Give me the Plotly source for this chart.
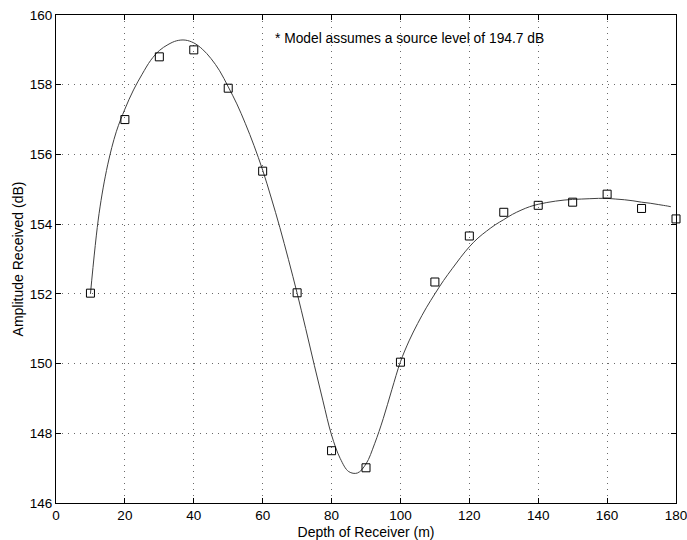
import plotly.graph_objects as go

# Measured received amplitude at each receiver depth
depth_m = [10, 20, 30, 40, 50, 60, 70, 80, 90, 100, 110, 120, 130, 140, 150, 160, 170, 180]
amplitude_db = [152.02, 157.0, 158.8, 159.0, 157.9, 155.52, 152.03, 147.5, 147.01, 150.04,
                152.34, 153.66, 154.34, 154.54, 154.63, 154.86, 154.45, 154.15]

# Propagation model curve, sampled every 2.5 m
model_depth = [10, 12.5, 15, 17.5, 20, 22.5, 25, 27.5, 30, 32.5, 35, 37.5, 40, 42.5, 45, 47.5,
               50, 52.5, 55, 57.5, 60, 62.5, 65, 67.5, 70, 72.5, 75, 77.5, 80, 82.5, 85, 87.5,
               90, 92.5, 95, 97.5, 100, 102.5, 105, 107.5, 110, 112.5, 115, 117.5, 120, 122.5,
               125, 127.5, 130, 132.5, 135, 137.5, 140, 142.5, 145, 147.5, 150, 152.5, 155,
               157.5, 160, 162.5, 165, 167.5, 170, 172.5, 175, 177.5, 178.5]
model_db = [152.0, 154.3, 155.7, 156.65, 157.3, 157.85, 158.3, 158.7, 158.98, 159.15, 159.26,
            159.28, 159.2, 159.02, 158.75, 158.4, 157.94, 157.45, 156.88, 156.25, 155.55,
            154.75, 153.9, 152.98, 152.02, 151.0, 149.95, 148.93, 147.95, 147.28, 146.9,
            146.86, 147.12, 147.7, 148.42, 149.25, 150.05, 150.65, 151.15, 151.6, 152.0,
            152.38, 152.72, 153.05, 153.35, 153.6, 153.8, 153.98, 154.13, 154.28, 154.4,
            154.5, 154.57, 154.62, 154.66, 154.69, 154.71, 154.72, 154.73, 154.74, 154.74,
            154.72, 154.7, 154.67, 154.63, 154.6, 154.56, 154.52, 154.5]

note_text = "* Model assumes a source level of 194.7 dB"
x_ticks = [0, 20, 40, 60, 80, 100, 120, 140, 160, 180]
y_ticks = [146, 148, 150, 152, 154, 156, 158, 160]

font_family = "Liberation Sans, Arial, sans-serif"

fig = go.Figure()
fig.add_trace(go.Scatter(
    x=model_depth, y=model_db, mode="lines",
    line=dict(color="#404040", width=1, shape="spline", smoothing=1),
    showlegend=False, hoverinfo="skip",
))
fig.add_trace(go.Scatter(
    x=depth_m, y=amplitude_db, mode="markers", cliponaxis=False,
    marker=dict(symbol="square-open", size=8, color="black", line=dict(width=1, color="black")),
    showlegend=False,
))

fig.add_annotation(
    x=62.9, y=159.34, xref="x", yref="y", text=note_text, showarrow=False,
    xanchor="left", yanchor="middle", font=dict(family=font_family, size=13.8, color="black"),
)

axis_common = dict(
    showline=True, linecolor="black", linewidth=1, mirror="ticks",
    ticks="inside", ticklen=5, tickcolor="black", tickwidth=1,
    showgrid=True, gridcolor="#6a6a6a", gridwidth=1, griddash="1px,5px",
    zeroline=False, automargin=False, ticklabeloverflow="allow",
    tickfont=dict(family=font_family, size=13.5, color="black"),
)

fig.update_xaxes(
    range=[0, 180], tickvals=x_ticks,
    title=dict(text="Depth of Receiver (m)", font=dict(family=font_family, size=14, color="black"), standoff=6),
    **axis_common,
)
fig.update_yaxes(
    range=[146, 160], tickvals=y_ticks,
    title=dict(text="Amplitude Received (dB)", font=dict(family=font_family, size=14, color="black"), standoff=2),
    **axis_common,
)

fig.update_layout(
    width=687, height=540,
    margin=dict(l=56, r=11, t=15, b=37, autoexpand=False),
    paper_bgcolor="white", plot_bgcolor="white",
    font=dict(family=font_family, size=13.5, color="black"),
)

fig.write_html("out.html")
